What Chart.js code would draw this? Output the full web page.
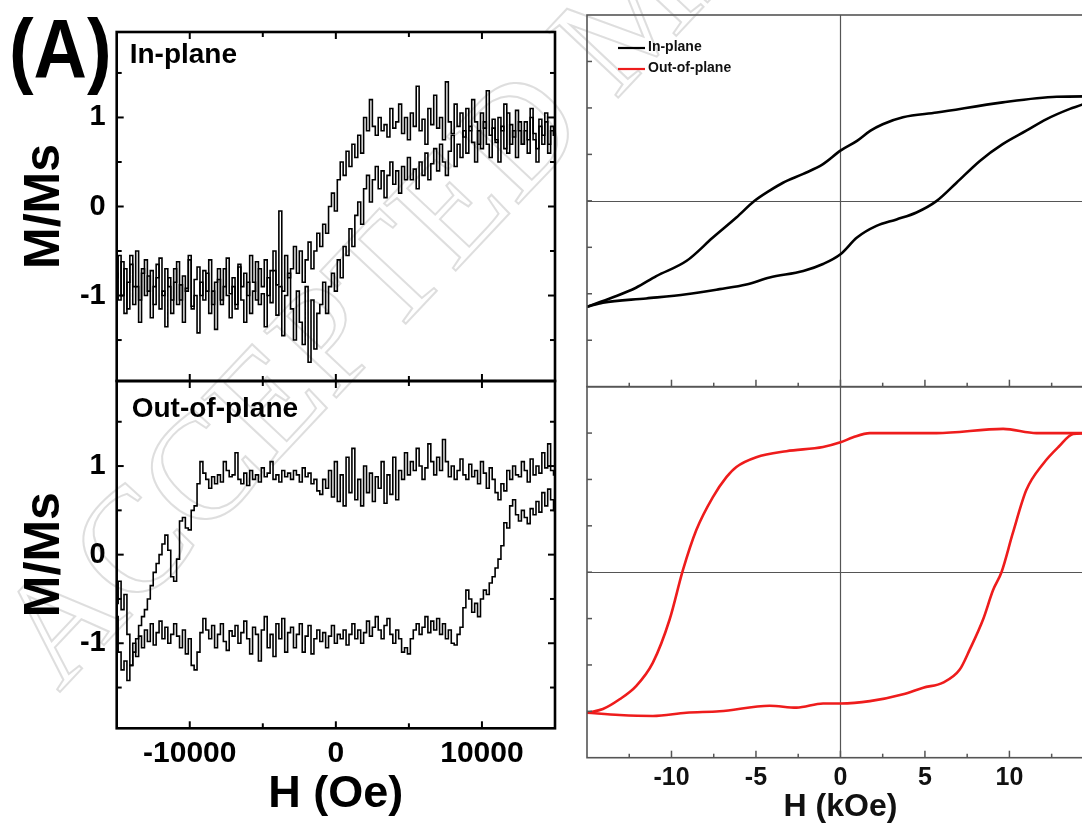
<!DOCTYPE html>
<html><head><meta charset="utf-8">
<script src="https://cdn.jsdelivr.net/npm/chart.js@4.4.1/dist/chart.umd.min.js"></script>
<style>
html,body{margin:0;padding:0;background:#fff;overflow:hidden;width:1082px;height:823px;position:relative;}
canvas{position:absolute;left:0;top:0;}
</style></head><body>
<canvas id="wm" width="1082" height="823"></canvas>
<canvas id="tl" width="1120" height="823"></canvas>
<canvas id="bl" width="1120" height="823"></canvas>
<canvas id="tr" width="1120" height="823"></canvas>
<canvas id="br" width="1120" height="823"></canvas>
<script>
// ---------------- DATA ----------------
// Left column: field in Oe
const H_OE = [-15000,-14800,-14600,-14400,-14200,-14000,-13800,-13600,-13400,-13200,
-13000,-12800,-12600,-12400,-12200,-12000,-11800,-11600,-11400,-11200,
-11000,-10800,-10600,-10400,-10200,-10000,-9800,-9600,-9400,-9200,
-9000,-8800,-8600,-8400,-8200,-8000,-7800,-7600,-7400,-7200,
-7000,-6800,-6600,-6400,-6200,-6000,-5800,-5600,-5400,-5200,
-5000,-4800,-4600,-4400,-4200,-4000,-3800,-3600,-3400,-3200,
-3000,-2800,-2600,-2400,-2200,-2000,-1800,-1600,-1400,-1200,
-1000,-800,-600,-400,-200,0,200,400,600,800,
1000,1200,1400,1600,1800,2000,2200,2400,2600,2800,
3000,3200,3400,3600,3800,4000,4200,4400,4600,4800,
5000,5200,5400,5600,5800,6000,6200,6400,6600,6800,
7000,7200,7400,7600,7800,8000,8200,8400,8600,8800,
9000,9200,9400,9600,9800,10000,10200,10400,10600,10800,
11000,11200,11400,11600,11800,12000,12200,12400,12600,12800,
13000,13200,13400,13600,13800,14000,14200,14400,14600,14800,
15000];

// In-plane (noisy), ascending branch
const IP_ASC = [-0.75,-1.05,-0.62,-1.2,-0.85,-0.55,-1.1,-0.9,-1.3,-0.7,
-1.0,-0.78,-1.25,-0.9,-0.65,-1.15,-0.95,-1.35,-0.8,-1.05,
-0.7,-1.1,-0.88,-1.3,-0.92,-0.6,-1.12,-1.0,-1.42,-0.85,
-1.05,-0.75,-1.2,-0.95,-1.38,-0.82,-1.1,-0.7,-1.0,-1.25,
-0.9,-1.15,-0.68,-1.05,-1.3,-0.85,-1.2,-0.95,-0.62,-1.1,
-0.98,-1.35,-0.8,-1.08,-0.72,-1.22,-0.9,-1.45,-1.0,-0.75,
-1.15,-1.5,-0.95,-1.3,-1.55,-0.9,-1.75,-1.05,-1.6,-1.2,
-1.1,-0.85,-1.2,-0.9,-0.75,-0.95,-0.6,-0.8,-0.45,-0.55,
-0.25,-0.45,-0.1,0.05,-0.2,0.2,0.35,0.05,0.3,0.45,
0.2,0.4,0.1,0.35,0.5,0.25,0.4,0.15,0.45,0.3,
0.55,0.3,0.42,0.2,0.5,0.35,0.6,0.3,0.48,0.65,
0.4,0.7,0.5,0.35,0.62,0.8,0.45,0.7,0.55,0.85,
0.6,0.9,0.72,0.5,0.85,0.65,0.95,0.7,0.55,0.88,
0.75,0.5,0.9,0.65,1.05,0.7,0.85,0.55,0.95,0.7,
0.85,0.6,1.0,0.75,0.5,0.9,0.7,0.95,0.6,0.85,
0.8];
// In-plane (noisy), descending branch
const IP_DESC = [-0.8,-0.55,-1.0,-0.7,-1.15,-0.65,-0.9,-0.5,-1.05,-0.75,
-0.6,-0.95,-0.72,-1.1,-0.8,-0.58,-1.0,-0.7,-0.9,-1.2,
-0.85,-0.62,-1.05,-0.78,-0.95,-0.55,-1.15,-0.82,-0.68,-1.0,
-0.72,-0.95,-0.6,-1.1,-0.85,-0.7,-1.05,-0.9,-0.58,-0.98,
-0.8,-1.1,-0.65,-0.9,-0.75,-1.0,-0.55,-0.85,-1.05,-0.7,
-0.9,-0.6,-1.0,-0.72,-0.5,-0.88,-0.05,-0.95,-0.55,-0.8,
-0.7,-0.45,-0.75,-0.5,-0.85,-0.6,-0.4,-0.7,-0.5,-0.3,
-0.45,-0.2,-0.3,0.0,0.15,-0.05,0.3,0.5,0.35,0.62,
0.45,0.7,0.55,0.8,0.6,1.0,0.85,1.2,0.9,0.8,
1.0,0.85,0.92,0.78,1.1,0.88,0.95,1.15,0.82,1.0,
0.75,1.05,0.9,1.35,0.85,0.98,0.7,1.1,0.92,1.25,
0.88,1.0,0.75,1.4,0.95,0.82,1.15,0.9,1.05,0.78,
1.1,0.85,1.2,0.95,0.7,1.05,0.88,1.3,0.8,0.98,
0.72,1.0,0.85,1.15,0.6,0.92,0.78,1.08,0.85,0.7,
0.95,0.75,1.1,0.82,0.65,0.98,0.8,1.05,0.7,0.9,
0.8];
// Out-of-plane (noisy), ascending branch
const OP_ASC = [-0.7,-1.1,-1.3,-1.2,-1.42,-1.25,-1.0,-1.15,-0.92,-1.05,
-0.85,-0.98,-0.78,-1.02,-0.88,-0.75,-0.95,-0.82,-1.0,-0.9,
-0.78,-0.92,-1.05,-0.85,-1.12,-0.95,-1.25,-1.3,-1.1,-0.88,
-0.72,-0.85,-0.95,-0.8,-1.05,-0.9,-0.78,-0.98,-1.08,-0.86,
-0.92,-0.8,-1.0,-0.88,-0.75,-0.95,-1.12,-0.82,-0.9,-1.2,
-0.85,-0.7,-1.05,-0.9,-1.15,-0.78,-0.95,-0.72,-1.1,-0.88,
-0.82,-1.05,-0.9,-0.78,-1.1,-0.92,-0.8,-1.12,-0.95,-0.85,
-0.98,-0.88,-1.05,-0.92,-0.8,-1.0,-0.9,-0.95,-0.85,-1.02,
-0.9,-0.78,-0.95,-0.85,-1.0,-0.88,-0.75,-0.92,-0.82,-0.7,
-0.85,-0.95,-0.8,-0.72,-0.9,-1.0,-0.85,-0.95,-1.1,-1.05,
-1.12,-0.95,-0.85,-0.78,-0.9,-0.82,-0.7,-0.88,-0.75,-0.85,
-0.72,-0.9,-0.78,-0.95,-0.85,-1.0,-1.02,-0.9,-0.82,-0.6,
-0.4,-0.5,-0.65,-0.55,-0.7,-0.5,-0.4,-0.45,-0.32,-0.25,
-0.15,-0.05,0.1,0.36,0.3,0.55,0.62,0.45,0.38,0.5,
0.42,0.35,0.52,0.45,0.6,0.48,0.7,0.55,0.74,0.62,
0.5];
// Out-of-plane (noisy), descending branch
const OP_DESC = [-0.55,-0.3,-0.62,-0.45,-0.9,-1.25,-1.1,-0.95,-0.8,-0.7,
-0.62,-0.5,-0.35,-0.2,-0.1,0.0,0.12,0.22,0.05,-0.25,
-0.3,-0.05,0.38,0.42,0.3,0.28,0.5,0.55,0.8,1.05,
0.92,0.85,0.75,0.88,0.8,0.9,0.82,1.05,0.95,0.88,
0.9,1.15,0.85,0.8,0.92,0.78,0.95,0.85,0.9,0.82,
0.98,0.88,0.92,1.05,0.85,0.9,0.82,0.95,0.88,0.92,
0.85,0.95,0.9,0.82,0.98,0.88,0.92,0.8,0.85,0.72,
0.68,0.85,0.75,0.95,0.65,1.05,0.6,0.9,0.55,1.1,
0.7,1.2,0.62,0.85,0.55,1.0,0.7,0.92,0.6,0.88,
0.75,1.05,0.58,0.9,0.68,1.1,0.62,0.95,0.85,1.15,
0.9,1.05,0.95,1.2,1.0,0.85,0.98,1.25,1.05,0.9,
1.1,0.95,1.3,1.05,0.88,1.0,0.85,0.95,1.08,0.9,
0.85,1.02,0.88,0.95,0.8,1.05,0.92,0.75,0.98,0.85,
0.7,0.62,0.8,0.72,0.95,0.85,1.0,0.9,0.88,1.05,
0.95,0.82,1.08,0.9,1.0,0.92,1.15,0.98,1.25,0.95,
0.9];

// Right column: field in kOe (smooth loops)
const IPS_DESC_H = [-15,-13.5,-12.1,-10.9,-9.1,-7.55,-6.16,-5.08,-4.19,-3.4,-2.2,-1.03,0,0.98,1.78,2.5,3.7,5.7,9.6,12.8,15];
const IPS_DESC_M = [-2.28,-2.08,-1.87,-1.62,-1.29,-0.79,-0.36,0.0,0.22,0.39,0.58,0.79,1.08,1.29,1.51,1.65,1.8,1.9,2.12,2.24,2.25];
const IPS_ASC_H = [-15,-14.06,-11.5,-9.12,-7.15,-5.57,-4.19,-2.2,-1.03,0,0.98,2.13,3.32,4.5,5.7,6.87,8.25,9.6,11.0,12.2,13.58,14.3,15];
const IPS_ASC_M = [-2.28,-2.19,-2.1,-2.01,-1.9,-1.8,-1.65,-1.51,-1.36,-1.15,-0.79,-0.54,-0.4,-0.25,0.0,0.39,0.86,1.22,1.51,1.76,1.98,2.07,2.2];
const OPS_DESC_H = [-15,-14.06,-13.07,-12.08,-11.1,-10.11,-9.32,-8.53,-7.55,-6.75,-6.16,-4.98,-3.2,-1.03,0,0.75,1.74,5.69,9.63,11.6,13.78,15];
const OPS_DESC_M = [-3.03,-2.95,-2.74,-2.45,-1.95,-1.02,0.05,0.91,1.62,2.05,2.27,2.48,2.61,2.7,2.8,2.91,3.0,3.0,3.09,3.0,3.0,3.0];
const OPS_ASC_H = [-15,-13.07,-11.1,-9.12,-7.15,-4.19,-2.6,-1.03,0,1.74,3.71,4.9,6.07,7.06,7.65,8.44,9.04,9.53,10.2,11.0,12.0,12.9,13.78,15];
const OPS_ASC_M = [-3.03,-3.08,-3.1,-3.03,-3.0,-2.88,-2.92,-2.83,-2.83,-2.78,-2.63,-2.49,-2.38,-2.1,-1.67,-1.02,-0.38,0.0,0.84,1.77,2.34,2.7,2.98,3.0];

const LEGEND_LABELS = ['In-plane','Out-of-plane'];
const LEFT_X_TICK_LABELS = [-10000, 0, 10000];
const RIGHT_X_TICK_LABELS = [-10, -5, 0, 5, 10];
const LEFT_Y_TICK_LABELS = [-1, 0, 1];

// ---------------- STYLE ----------------
const FONT = "'Liberation Sans', Arial, Helvetica, sans-serif";
const RED = '#ee1c1c';
Chart.defaults.font.family = FONT;
Chart.defaults.color = '#000';

const pts = (xs, ys) => xs.map((x, i) => ({x: x, y: ys[i]}));

const decor = {
  id: 'decor',
  beforeDatasetsDraw(chart, args, o) {
    if (!o.zero) return;
    const {ctx, chartArea: a} = chart;
    const xs = chart.scales.x, ys = chart.scales.y;
    ctx.save();
    ctx.strokeStyle = o.zero.color; ctx.lineWidth = o.zero.width;
    const px = Math.round(xs.getPixelForValue(0)) + 0.5;
    const py = Math.round(ys.getPixelForValue(0)) + 0.5;
    ctx.beginPath(); ctx.moveTo(px, a.top); ctx.lineTo(px, a.bottom);
    ctx.moveTo(a.left, py); ctx.lineTo(a.right, py); ctx.stroke();
    ctx.restore();
  },
  afterDatasetsDraw(chart, args, o) {
    const {ctx, chartArea: a} = chart;
    const xs = chart.scales.x, ys = chart.scales.y;
    ctx.save();
    ctx.strokeStyle = o.tickColor; ctx.lineWidth = o.tickWidth;
    const eps = 1e-9;
    for (const t of xs.ticks) {
      const v = t.value;
      if (v <= xs.min + eps || v >= xs.max - eps) continue;
      const px = xs.getPixelForValue(v);
      const major = Math.abs(v / o.xMajor - Math.round(v / o.xMajor)) < 1e-6;
      const len = major ? o.majorLen : o.minorLen;
      for (const side of o.xSides) {
        ctx.beginPath();
        if (side === 'bottom') { ctx.moveTo(px, a.bottom); ctx.lineTo(px, a.bottom - len); }
        else { ctx.moveTo(px, a.top); ctx.lineTo(px, a.top + len); }
        ctx.stroke();
      }
    }
    for (const t of ys.ticks) {
      const v = t.value;
      if (v <= ys.min + eps || v >= ys.max - eps) continue;
      const py = ys.getPixelForValue(v);
      const major = Math.abs(v / o.yMajor - Math.round(v / o.yMajor)) < 1e-6;
      const len = major ? o.yMajorLen : o.yMinorLen;
      for (const side of o.ySides) {
        ctx.beginPath();
        if (side === 'left') { ctx.moveTo(a.left, py); ctx.lineTo(a.left + len, py); }
        else { ctx.moveTo(a.right, py); ctx.lineTo(a.right - len, py); }
        ctx.stroke();
      }
    }
    ctx.strokeStyle = o.frameColor; ctx.lineWidth = o.frameWidth;
    ctx.strokeRect(a.left, a.top, a.right - a.left, a.bottom - a.top);
    for (const tx of (o.texts || [])) {
      ctx.save();
      ctx.font = tx.font; ctx.fillStyle = tx.color || '#000';
      ctx.textBaseline = 'alphabetic'; ctx.textAlign = 'left';
      const x = tx.abs ? tx.x : a.left + tx.x;
      const y = tx.abs ? tx.y : a.top + tx.y;
      ctx.translate(x, y);
      if (tx.sx) ctx.scale(tx.sx, 1);
      ctx.fillText(tx.text, 0, 0);
      ctx.restore();
    }
    if (o.legend) {
      const L = o.legend;
      L.items.forEach((it, i) => {
        const y = a.top + L.y + i * L.gap;
        ctx.strokeStyle = it.color; ctx.lineWidth = 2.2;
        ctx.beginPath(); ctx.moveTo(a.left + L.x, y); ctx.lineTo(a.left + L.x + L.len, y); ctx.stroke();
        ctx.font = L.font; ctx.fillStyle = '#111'; ctx.textBaseline = 'middle';
        ctx.fillText(it.text, a.left + L.x + L.len + 3, y - 1);
      });
    }
    ctx.restore();
  }
};

function baseOpts() {
  return {
    responsive: false, animation: false, devicePixelRatio: 1, events: [],
    plugins: { legend: {display: false}, tooltip: {enabled: false} },
  };
}

// ----- left column -----
function leftChart(id, asc, desc, opts) {
  const o = baseOpts();
  o.layout = {padding: {left: 0, top: opts.top, right: 1120 - 555, bottom: opts.padBottom}};
  o.scales = {
    x: {
      type: 'linear', min: -15000, max: 15000,
      grid: {display: false, drawTicks: false}, border: {display: false},
      ticks: {
        display: opts.showX, stepSize: 5000, autoSkip: false, maxRotation: 0, minRotation: 0,
        padding: 7, font: {size: 30, weight: 'bold'}, color: '#000',
        callback: v => LEFT_X_TICK_LABELS.includes(v) ? String(v) : ''
      },
      title: opts.showX ? {display: true, text: 'H (Oe)', font: {size: 45, weight: 'bold', lineHeight: 1}, padding: {top: 0, bottom: 6}, color: '#000'} : {display: false},
      afterFit: s => { s.height = opts.xH; }
    },
    y: {
      type: 'linear', min: -1.96, max: 1.96,
      grid: {display: false, drawTicks: false}, border: {display: false},
      ticks: {
        stepSize: 0.5, includeBounds: false, autoSkip: false, padding: 11,
        font: {size: 29, weight: 'bold'}, color: '#000',
        callback: v => LEFT_Y_TICK_LABELS.includes(v) ? String(v) : ''
      },
      title: {display: true, text: 'M/Ms', font: {size: 50, weight: 'bold', lineHeight: 1}, padding: {top: 20, bottom: 0}, color: '#000'},
      afterFit: s => { s.width = 116.7; }
    }
  };
  o.plugins.decor = {
    tickColor: '#000', tickWidth: 2, frameColor: '#000', frameWidth: 2.6,
    xMajor: 10000, majorLen: 7, minorLen: 5, xSides: ['bottom', 'top'],
    yMajor: 1, yMajorLen: 7, yMinorLen: 5, ySides: ['left', 'right'],
    texts: opts.texts
  };
  const ds = (label, data) => ({label: label, data: data, borderColor: '#000', borderWidth: 1.6,
    pointRadius: 0, stepped: 'middle', fill: false});
  return new Chart(document.getElementById(id), {
    type: 'line',
    data: {datasets: [ds(opts.label + ' ascending', pts(H_OE, asc)), ds(opts.label + ' descending', pts(H_OE, desc))]},
    options: o, plugins: [decor]
  });
}

leftChart('tl', IP_ASC, IP_DESC, {
  top: 32, padBottom: 823 - 381, xH: 0, showX: false, label: 'In-plane',
  texts: [
    {text: 'In-plane', x: 13, y: 31, font: "bold 28px " + FONT},
    {text: '(A)', x: 9, y: 78, abs: true, font: "bold 84px " + FONT, sx: 0.88}
  ]
});
leftChart('bl', OP_ASC, OP_DESC, {
  top: 381, padBottom: 0, xH: 823 - 728.3, showX: true, label: 'Out-of-plane',
  texts: [{text: 'Out-of-plane', x: 15, y: 36, font: "bold 28px " + FONT}]
});

// ----- right column -----
function rightChart(id, sets, opts) {
  const o = baseOpts();
  o.layout = {padding: {left: 0, top: opts.top, right: 1120 - 1093.9, bottom: opts.padBottom}};
  o.scales = {
    x: {
      type: 'linear', min: -15, max: 15,
      grid: {display: false, drawTicks: false}, border: {display: false},
      ticks: {
        display: opts.showX, stepSize: 2.5, autoSkip: false, maxRotation: 0, minRotation: 0,
        padding: 5, font: {size: 25, weight: 'bold'}, color: '#111',
        callback: v => RIGHT_X_TICK_LABELS.includes(v) ? String(v) : ''
      },
      title: opts.showX ? {display: true, text: 'H (kOe)', font: {size: 32, weight: 'bold', lineHeight: 1}, padding: {top: 0, bottom: 0}, color: '#111'} : {display: false},
      afterFit: s => { s.height = opts.xH; }
    },
    y: {
      type: 'linear', min: -4, max: 4,
      grid: {display: false, drawTicks: false}, border: {display: false},
      ticks: {display: false, stepSize: 1, includeBounds: false},
      afterFit: s => { s.width = 587; }
    }
  };
  o.plugins.decor = {
    tickColor: '#555', tickWidth: 1.5, frameColor: '#555', frameWidth: 1.6,
    xMajor: 5, majorLen: 7, minorLen: 4, xSides: ['bottom'],
    yMajor: 1, yMajorLen: 5, yMinorLen: 5, ySides: ['left'],
    zero: {color: '#555', width: 1.2},
    legend: opts.legend
  };
  return new Chart(document.getElementById(id), {
    type: 'line',
    data: {datasets: sets.map(s => ({label: s.label, data: s.data, borderColor: s.color, borderWidth: 2.6,
      pointRadius: 0, cubicInterpolationMode: 'monotone', fill: false}))},
    options: o, plugins: [decor]
  });
}

rightChart('tr', [
  {label: 'In-plane', data: pts(IPS_DESC_H, IPS_DESC_M), color: '#000'},
  {label: 'In-plane', data: pts(IPS_ASC_H, IPS_ASC_M), color: '#000'}
], {
  top: 15, padBottom: 823 - 386.7, xH: 0, showX: false,
  legend: {x: 31, y: 33, gap: 21, len: 27, font: "bold 14px " + FONT,
    items: [{text: LEGEND_LABELS[0], color: '#000'}, {text: LEGEND_LABELS[1], color: RED}]}
});
rightChart('br', [
  {label: 'Out-of-plane', data: pts(OPS_DESC_H, OPS_DESC_M), color: RED},
  {label: 'Out-of-plane', data: pts(OPS_ASC_H, OPS_ASC_M), color: RED}
], {top: 386.7, padBottom: 0, xH: 823 - 757.7, showX: true});

// ----- faint watermark (drawn underneath) -----
(function () {
  const c = document.getElementById('wm').getContext('2d');
  c.save();
  c.translate(59, 693);
  c.rotate(-46.8 * Math.PI / 180);
  c.font = "150px 'Liberation Serif', 'Times New Roman', serif";
  c.strokeStyle = 'rgba(195,195,195,0.55)';
  c.lineWidth = 2;
  c.strokeText('ACCEPTED MANUSCRIPT', 0, 0);
  c.restore();
})();
</script>
</body></html>
